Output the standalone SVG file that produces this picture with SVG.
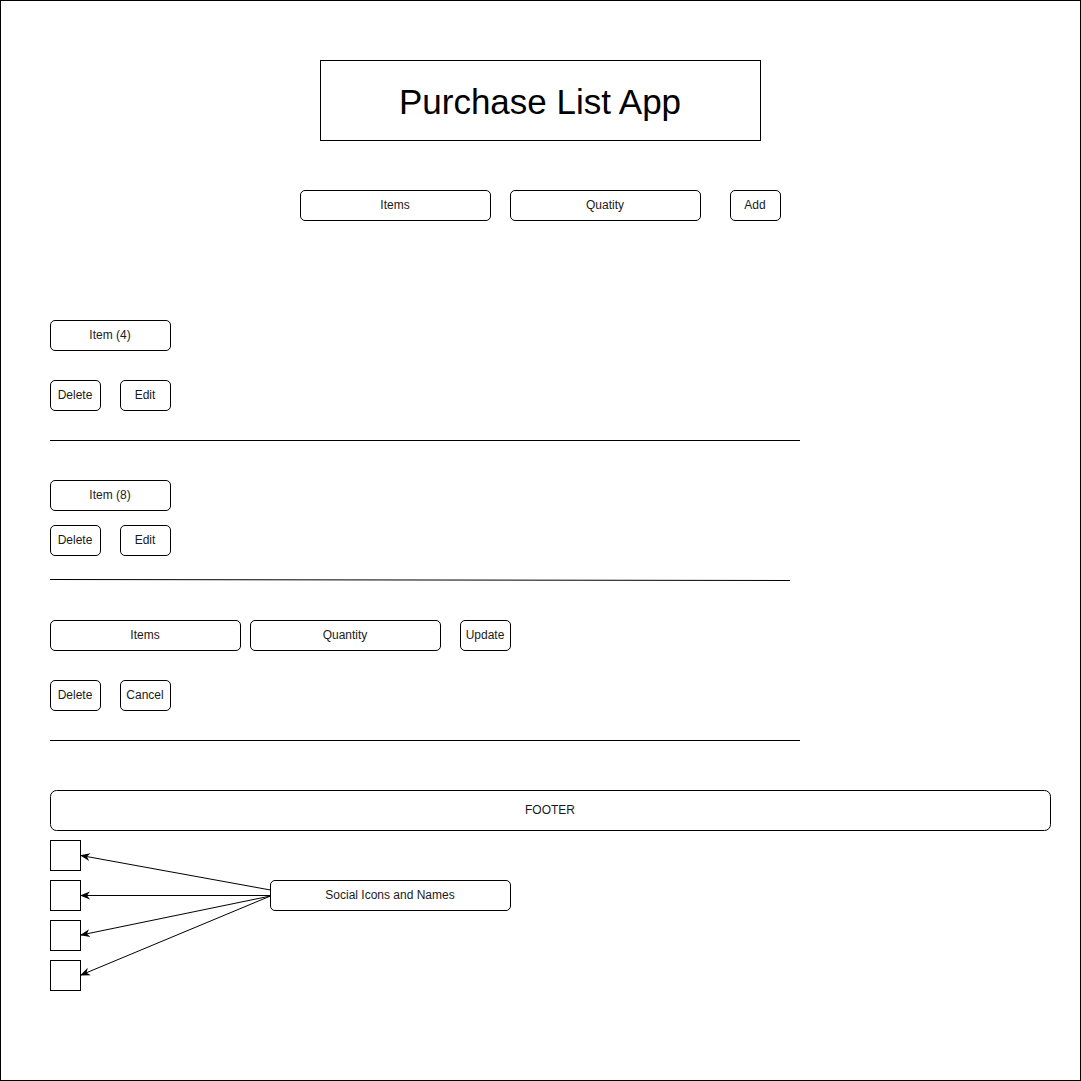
<svg xmlns="http://www.w3.org/2000/svg" width="1081" height="1081" viewBox="0 0 1081 1081">
<style>
  .b{fill:#fff;stroke:#000;stroke-width:1}
  .t{font-family:"Liberation Sans",Arial,sans-serif;font-size:12px;fill:#1a1a1a;text-anchor:middle;dominant-baseline:central}
  .ln{stroke:#000;stroke-width:1;fill:none}
</style>
<defs>
  <marker id="arr" viewBox="0 0 10 10" refX="9" refY="5" markerWidth="10" markerHeight="10" markerUnits="userSpaceOnUse" orient="auto">
    <path d="M0,1 L10,5 L0,9 L3,5 Z" fill="#000"/>
  </marker>
</defs>
<rect x="0.5" y="0.5" width="1080" height="1080" fill="#fff" stroke="#000"/>
<g id="title"><rect class="b" x="320.5" y="60.5" width="440" height="80"/><text class="t" x="540" y="101" style="font-size:35px;fill:#000">Purchase List App</text></g>
<g id="items-input"><rect class="b" x="300.5" y="190.5" width="190" height="30" rx="4.5"/><text class="t" x="395" y="205">Items</text></g>
<g id="quatity-input"><rect class="b" x="510.5" y="190.5" width="190" height="30" rx="4.5"/><text class="t" x="605" y="205">Quatity</text></g>
<g id="add-btn"><rect class="b" x="730.5" y="190.5" width="50" height="30" rx="4.5"/><text class="t" x="755" y="205">Add</text></g>
<g id="item4"><rect class="b" x="50.5" y="320.5" width="120" height="30" rx="4.5"/><text class="t" x="110" y="335">Item (4)</text></g>
<g id="delete1"><rect class="b" x="50.5" y="380.5" width="50" height="30" rx="4.5"/><text class="t" x="75" y="395">Delete</text></g>
<g id="edit1"><rect class="b" x="120.5" y="380.5" width="50" height="30" rx="4.5"/><text class="t" x="145" y="395">Edit</text></g>
<g id="item8"><rect class="b" x="50.5" y="480.5" width="120" height="30" rx="4.5"/><text class="t" x="110" y="495">Item (8)</text></g>
<g id="delete2"><rect class="b" x="50.5" y="525.5" width="50" height="30" rx="4.5"/><text class="t" x="75" y="540">Delete</text></g>
<g id="edit2"><rect class="b" x="120.5" y="525.5" width="50" height="30" rx="4.5"/><text class="t" x="145" y="540">Edit</text></g>
<g id="items-edit"><rect class="b" x="50.5" y="620.5" width="190" height="30" rx="4.5"/><text class="t" x="145" y="635">Items</text></g>
<g id="quantity-edit"><rect class="b" x="250.5" y="620.5" width="190" height="30" rx="4.5"/><text class="t" x="345" y="635">Quantity</text></g>
<g id="update-btn"><rect class="b" x="460.5" y="620.5" width="50" height="30" rx="4.5"/><text class="t" x="485" y="635">Update</text></g>
<g id="delete3"><rect class="b" x="50.5" y="680.5" width="50" height="30" rx="4.5"/><text class="t" x="75" y="695">Delete</text></g>
<g id="cancel"><rect class="b" x="120.5" y="680.5" width="50" height="30" rx="4.5"/><text class="t" x="145" y="695">Cancel</text></g>
<g id="footer"><rect class="b" x="50.5" y="790.5" width="1000" height="40" rx="6"/><text class="t" x="550" y="810">FOOTER</text></g>
<g id="icon1"><rect class="b" x="50.5" y="840.5" width="30" height="30"/></g>
<g id="icon2"><rect class="b" x="50.5" y="880.5" width="30" height="30"/></g>
<g id="icon3"><rect class="b" x="50.5" y="920.5" width="30" height="30"/></g>
<g id="icon4"><rect class="b" x="50.5" y="960.5" width="30" height="30"/></g>
<g id="social"><rect class="b" x="270.5" y="880.5" width="240" height="30" rx="4.5"/><text class="t" x="390" y="895">Social Icons and Names</text></g>
<g id="separators">
  <line class="ln" x1="50" y1="440.5" x2="800" y2="440.5"/>
  <line class="ln" x1="50" y1="579.5" x2="790" y2="580.5"/>
  <line class="ln" x1="50" y1="740.5" x2="800" y2="740.5"/>
</g>
<g id="connectors">
  <line class="ln" x1="270.5" y1="890" x2="81" y2="855.5" marker-end="url(#arr)"/>
  <line class="ln" x1="270.5" y1="895.5" x2="81" y2="895.5" marker-end="url(#arr)"/>
  <line class="ln" x1="270.5" y1="896" x2="81" y2="935" marker-end="url(#arr)"/>
  <line class="ln" x1="270.5" y1="896" x2="81" y2="975" marker-end="url(#arr)"/>
</g>
</svg>
